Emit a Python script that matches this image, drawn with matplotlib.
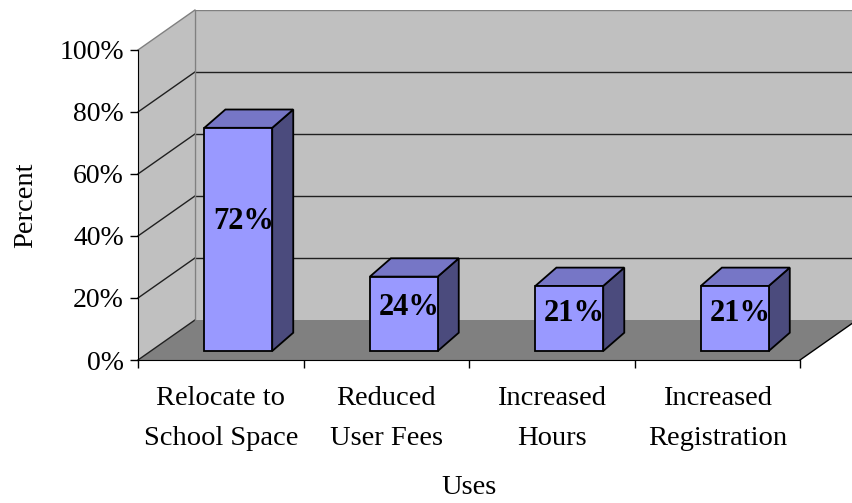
import matplotlib
matplotlib.use("Agg")
import matplotlib.pyplot as plt
from matplotlib.patches import Polygon

# Data
categories = ["Relocate to\nSchool Space", "Reduced\nUser Fees", "Increased\nHours", "Increased\nRegistration"]
values = [72, 24, 21, 21]
bar_labels = ["72%", "24%", "21%", "21%"]
y_ticks = [0, 20, 40, 60, 80, 100]
y_tick_labels = ["0%", "20%", "40%", "60%", "80%", "100%"]

plt.rcParams["font.family"] = ["Liberation Serif", "DejaVu Serif"]

# depth of the 3-D box in data units
wall_dx, wall_dy = 0.344, 12.9
bar_dx, bar_dy = 0.127, 5.9
bar_w = 0.41
bar_shift = 0.106
bar_base = 2.9

fig = plt.figure(figsize=(8.52, 5.03), dpi=100)
ax = fig.add_axes([138 / 852, 143 / 503, 714 / 852, 350 / 503])
n = len(categories)
ax.set_xlim(0, 4.314)
ax.set_ylim(0, 112.9)

wall = "#c0c0c0"
floor = "#808080"

# back wall, side wall, floor
ax.add_patch(Polygon([(wall_dx, wall_dy), (n + wall_dx, wall_dy),
                      (n + wall_dx, 100 + wall_dy), (wall_dx, 100 + wall_dy)],
                     facecolor=wall, edgecolor="none", zorder=0))
ax.add_patch(Polygon([(0, 0), (wall_dx, wall_dy), (wall_dx, 100 + wall_dy), (0, 100)],
                     facecolor=wall, edgecolor="none", zorder=0))
ax.add_patch(Polygon([(0, 0), (n, 0), (n + wall_dx, wall_dy), (wall_dx, wall_dy)],
                     facecolor=floor, edgecolor="none", zorder=0))

# gridlines on the walls
for v in y_ticks:
    c = "#808080" if v == 100 else "#202020"
    ax.plot([0, wall_dx], [v, v + wall_dy], color=c, lw=1.0, zorder=1, clip_on=False)
    if 0 < v:
        ax.plot([wall_dx, n + wall_dx], [v + wall_dy, v + wall_dy],
                color=c, lw=1.0, zorder=1)
ax.plot([wall_dx, wall_dx], [wall_dy, 100 + wall_dy], color="#808080", lw=1.0, zorder=1)
ax.plot([n, n + wall_dx], [0, wall_dy], color="black", lw=1.0, zorder=1, clip_on=False)

# bars
front = "#9999ff"
top = "#7676c6"
side = "#4b4b7d"
for i, v in enumerate(values):
    x0 = i + 0.5 - bar_w / 2 + bar_shift
    x1 = x0 + bar_w
    y0 = bar_base
    y1 = bar_base + v
    ax.add_patch(Polygon([(x1, y0), (x1 + bar_dx, y0 + bar_dy), (x1 + bar_dx, y1 + bar_dy), (x1, y1)],
                         facecolor=side, edgecolor="black", lw=1.3, zorder=3))
    ax.add_patch(Polygon([(x0, y1), (x1, y1), (x1 + bar_dx, y1 + bar_dy), (x0 + bar_dx, y1 + bar_dy)],
                         facecolor=top, edgecolor="black", lw=1.3, zorder=3))
    ax.add_patch(Polygon([(x0, y0), (x1, y0), (x1, y1), (x0, y1)],
                         facecolor=front, edgecolor="black", lw=1.3, zorder=3))
    ax.text((x0 + x1) / 2 + 0.03, y0 + v * 0.58, bar_labels[i], ha="center", va="center",
            fontsize=22, fontweight="bold", zorder=4)

# axes
for s in ["top", "right"]:
    ax.spines[s].set_visible(False)
ax.spines["left"].set_bounds(0, 100)
ax.spines["bottom"].set_bounds(0, n)
ax.spines["left"].set_zorder(2)
ax.spines["bottom"].set_zorder(2)
ax.set_facecolor("white")

ax.set_yticks(y_ticks)
ax.set_yticklabels(y_tick_labels)
ax.set_xticks(range(n + 1))
ax.set_xticklabels([])
ax.set_xticks([i + 0.5 for i in range(n)], minor=True)
ax.set_xticklabels(categories, minor=True, linespacing=1.75)
ax.tick_params(axis="y", which="major", length=6, width=1, labelsize=20, pad=4)
ax.tick_params(axis="x", which="major", length=6, width=1)
ax.tick_params(axis="x", which="minor", length=0, labelsize=20.5, pad=19)

ax.set_xlabel("Uses", fontsize=20.5)
ax.set_ylabel("Percent", fontsize=20.5)
ax.xaxis.set_label_coords(0.4636, -0.363)
ax.xaxis.label.set_va("center")
ax.yaxis.set_label_coords(-0.158, 0.443)
ax.yaxis.label.set_va("center")

fig.savefig("out.png", dpi=100)
